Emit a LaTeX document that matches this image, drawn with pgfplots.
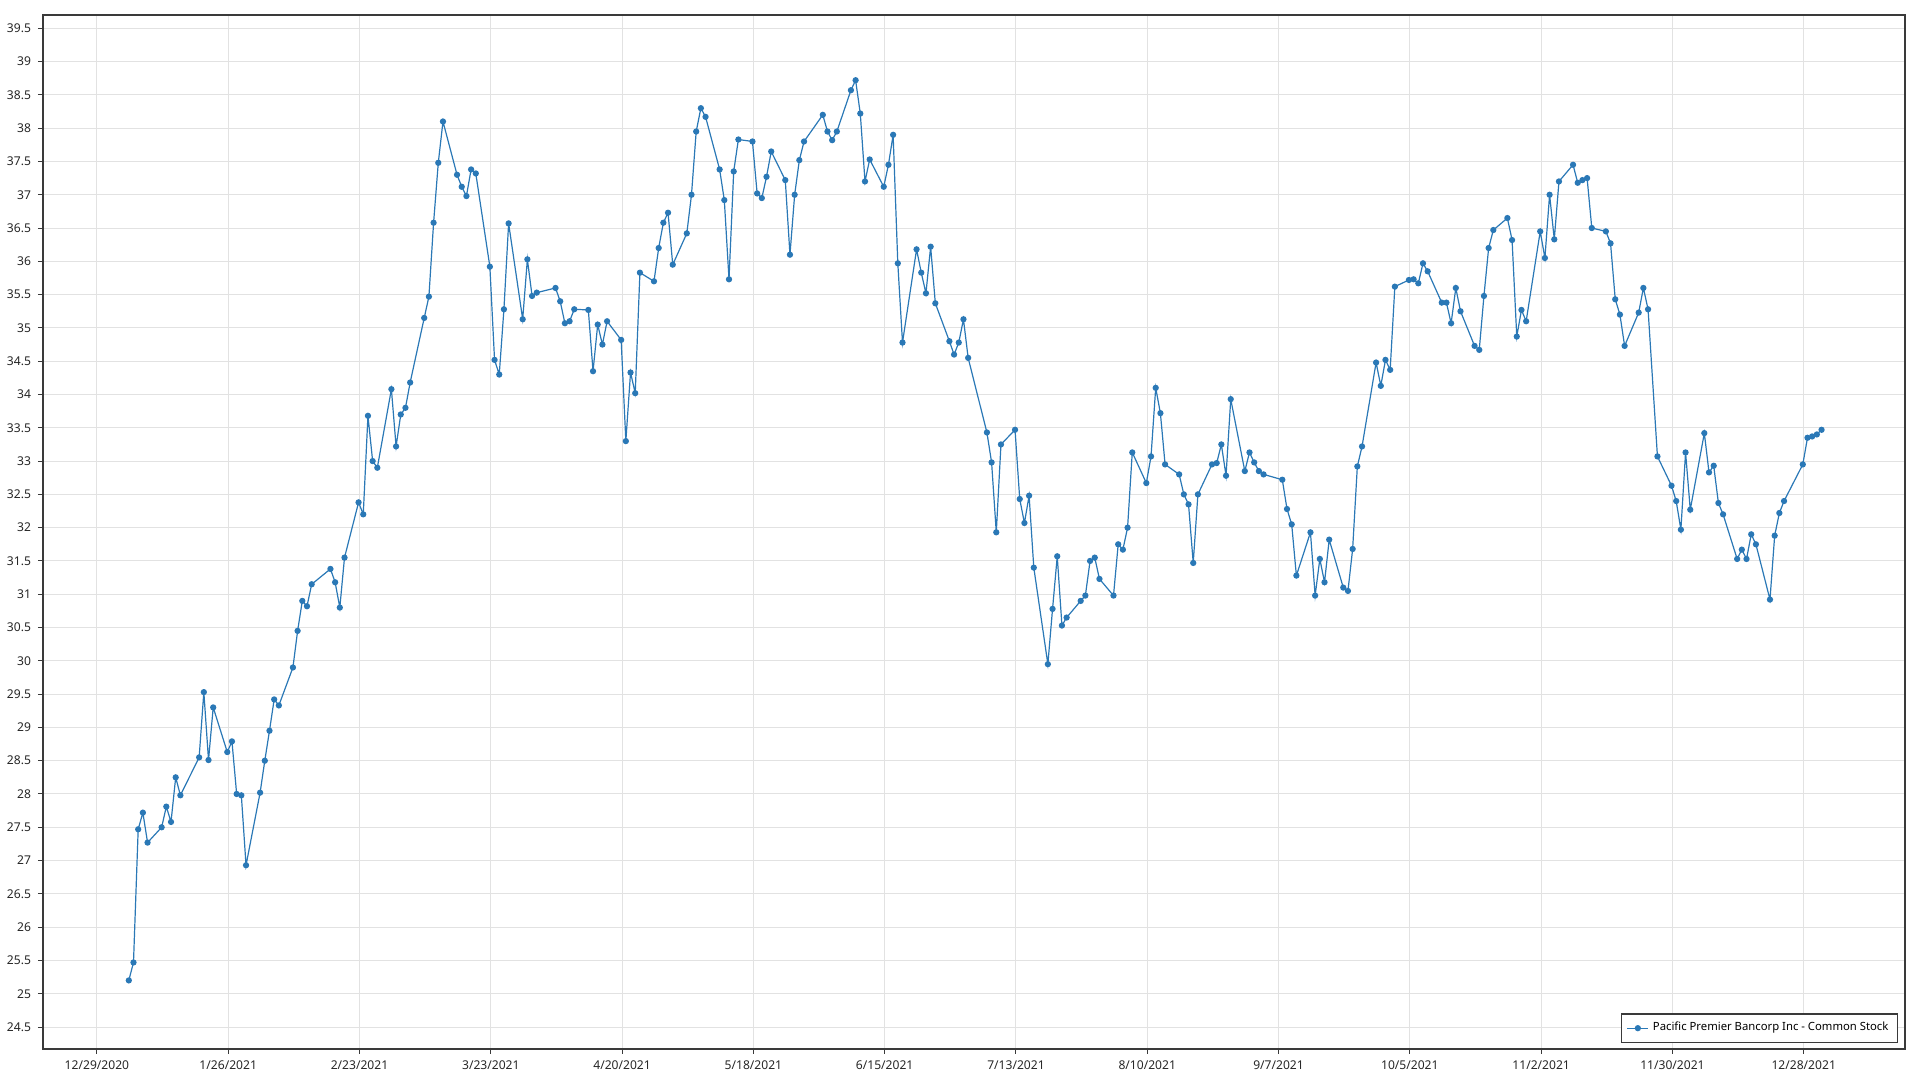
\documentclass[border=0pt]{standalone}
\usepackage{fontspec}
\setmainfont{Noto Sans}
\usepackage{pgfplots}
\pgfplotsset{compat=1.18}
\definecolor{serie}{HTML}{2A78B6}
\definecolor{gridc}{HTML}{E2E2E2}
\definecolor{axc}{HTML}{3A3A3A}
\begin{document}
\begin{tikzpicture}
\path[use as bounding box] (-21.5pt,-15.5pt) rectangle (938.5pt,524.5pt);
\begin{axis}[at={(0,0)}, anchor=south west, scale only axis,
  width=931pt, height=517pt,
  xmin=-11.5, xmax=385.6, ymin=24.17, ymax=39.7,
  xtick={0,28,56,84,112,140,168,196,224,252,280,308,336,364},
  xticklabels={12/29/2020,1/26/2021,2/23/2021,3/23/2021,4/20/2021,5/18/2021,6/15/2021,7/13/2021,8/10/2021,9/7/2021,10/5/2021,11/2/2021,11/30/2021,12/28/2021},
  ytick={24.5,25,25.5,26,26.5,27,27.5,28,28.5,29,29.5,30,30.5,31,31.5,32,32.5,33,33.5,34,34.5,35,35.5,36,36.5,37,37.5,38,38.5,39,39.5},
  xtick pos=bottom, ytick pos=left,
  grid=major, major grid style={gridc, line width=0.5pt},
  axis line style={axc, line width=0.6pt},
  tick style={axc, line width=0.5pt}, tick align=outside, major tick length=2.5pt,
  tick label style={font=\fontsize{6.05}{7}\selectfont, text=black!85},
  /pgf/number format/assume math mode=true,
  legend style={at={(1,0)}, anchor=south east, xshift=-3.5pt, yshift=3pt,
    draw=axc, line width=0.6pt, fill=white, font=\fontsize{5.65}{7}\selectfont,
    inner xsep=2.5pt, inner ysep=2.2pt},
  legend cell align=left,
  legend image code/.code={\draw[mark repeat=2,mark phase=2] plot coordinates {(0pt,0pt) (5.25pt,0pt) (10.5pt,0pt)};},
  x filter/.expression={x+0.8},
]
\addplot[serie, line width=0.6pt, mark=*, mark size=1.25pt, mark options={fill=serie, draw=serie}] coordinates {
(6,25.2) (7,25.47) (8,27.47) (9,27.72) (10,27.27) (13,27.5) (14,27.81) (15,27.58) (16,28.25) (17,27.98)
(21,28.55) (22,29.53) (23,28.51) (24,29.3) (27,28.63) (28,28.79) (29,28.0) (30,27.98) (31,26.93)
(34,28.02) (35,28.5) (36,28.95) (37,29.42) (38,29.33)
(41,29.9) (42,30.45) (43,30.9) (44,30.82) (45,31.15)
(49,31.38) (50,31.18) (51,30.8) (52,31.55)
(55,32.38) (56,32.2) (57,33.68) (58,33.0) (59,32.9)
(62,34.08) (63,33.22) (64,33.7) (65,33.8) (66,34.18)
(69,35.15) (70,35.47) (71,36.58) (72,37.48) (73,38.1)
(76,37.3) (77,37.12) (78,36.98) (79,37.38) (80,37.32)
(83,35.92) (84,34.52) (85,34.3) (86,35.28) (87,36.57)
(90,35.13) (91,36.03) (92,35.48) (93,35.53)
(97,35.6) (98,35.4) (99,35.07) (100,35.1) (101,35.28)
(104,35.27) (105,34.35) (106,35.05) (107,34.75) (108,35.1)
(111,34.82) (112,33.3) (113,34.33) (114,34.02) (115,35.83)
(118,35.7) (119,36.2) (120,36.58) (121,36.73) (122,35.95)
(125,36.42) (126,37.0) (127,37.95) (128,38.3) (129,38.17)
(132,37.38) (133,36.92) (134,35.73) (135,37.35) (136,37.83)
(139,37.8) (140,37.02) (141,36.95) (142,37.27) (143,37.65)
(146,37.22) (147,36.1) (148,37.0) (149,37.52) (150,37.8)
(154,38.2) (155,37.95) (156,37.82) (157,37.95)
(160,38.57) (161,38.72) (162,38.22) (163,37.2) (164,37.53)
(167,37.12) (168,37.45) (169,37.9) (170,35.97) (171,34.78)
(174,36.18) (175,35.83) (176,35.52) (177,36.22) (178,35.37)
(181,34.8) (182,34.6) (183,34.78) (184,35.13) (185,34.55)
(189,33.43) (190,32.98) (191,31.93) (192,33.25)
(195,33.47) (196,32.43) (197,32.07) (198,32.48) (199,31.4)
(202,29.95) (203,30.78) (204,31.57) (205,30.53) (206,30.65)
(209,30.9) (210,30.98) (211,31.5) (212,31.55) (213,31.23)
(216,30.98) (217,31.75) (218,31.67) (219,32.0) (220,33.13)
(223,32.67) (224,33.07) (225,34.1) (226,33.72) (227,32.95)
(230,32.8) (231,32.5) (232,32.35) (233,31.47) (234,32.5)
(237,32.95) (238,32.97) (239,33.25) (240,32.78) (241,33.93)
(244,32.85) (245,33.13) (246,32.98) (247,32.85) (248,32.8)
(252,32.72) (253,32.28) (254,32.05) (255,31.28)
(258,31.93) (259,30.98) (260,31.53) (261,31.18) (262,31.82)
(265,31.1) (266,31.05) (267,31.68) (268,32.92) (269,33.22)
(272,34.48) (273,34.13) (274,34.52) (275,34.37) (276,35.62)
(279,35.72) (280,35.73) (281,35.67) (282,35.97) (283,35.85)
(286,35.38) (287,35.38) (288,35.07) (289,35.6) (290,35.25)
(293,34.73) (294,34.67) (295,35.48) (296,36.2) (297,36.47)
(300,36.65) (301,36.32) (302,34.87) (303,35.27) (304,35.1)
(307,36.45) (308,36.05) (309,37.0) (310,36.33) (311,37.2)
(314,37.45) (315,37.18) (316,37.22) (317,37.25) (318,36.5)
(321,36.45) (322,36.27) (323,35.43) (324,35.2) (325,34.73)
(328,35.23) (329,35.6) (330,35.28) (332,33.07)
(335,32.63) (336,32.4) (337,31.97) (338,33.13) (339,32.27)
(342,33.42) (343,32.83) (344,32.93) (345,32.37) (346,32.2)
(349,31.53) (350,31.67) (351,31.53) (352,31.9) (353,31.75)
(356,30.92) (357,31.88) (358,32.22) (359,32.4)
(363,32.95) (364,33.35) (365,33.37) (366,33.4) (367,33.47)
};
\addlegendentry{Pacific Premier Bancorp Inc - Common Stock}
\end{axis}
\end{tikzpicture}
\end{document}
